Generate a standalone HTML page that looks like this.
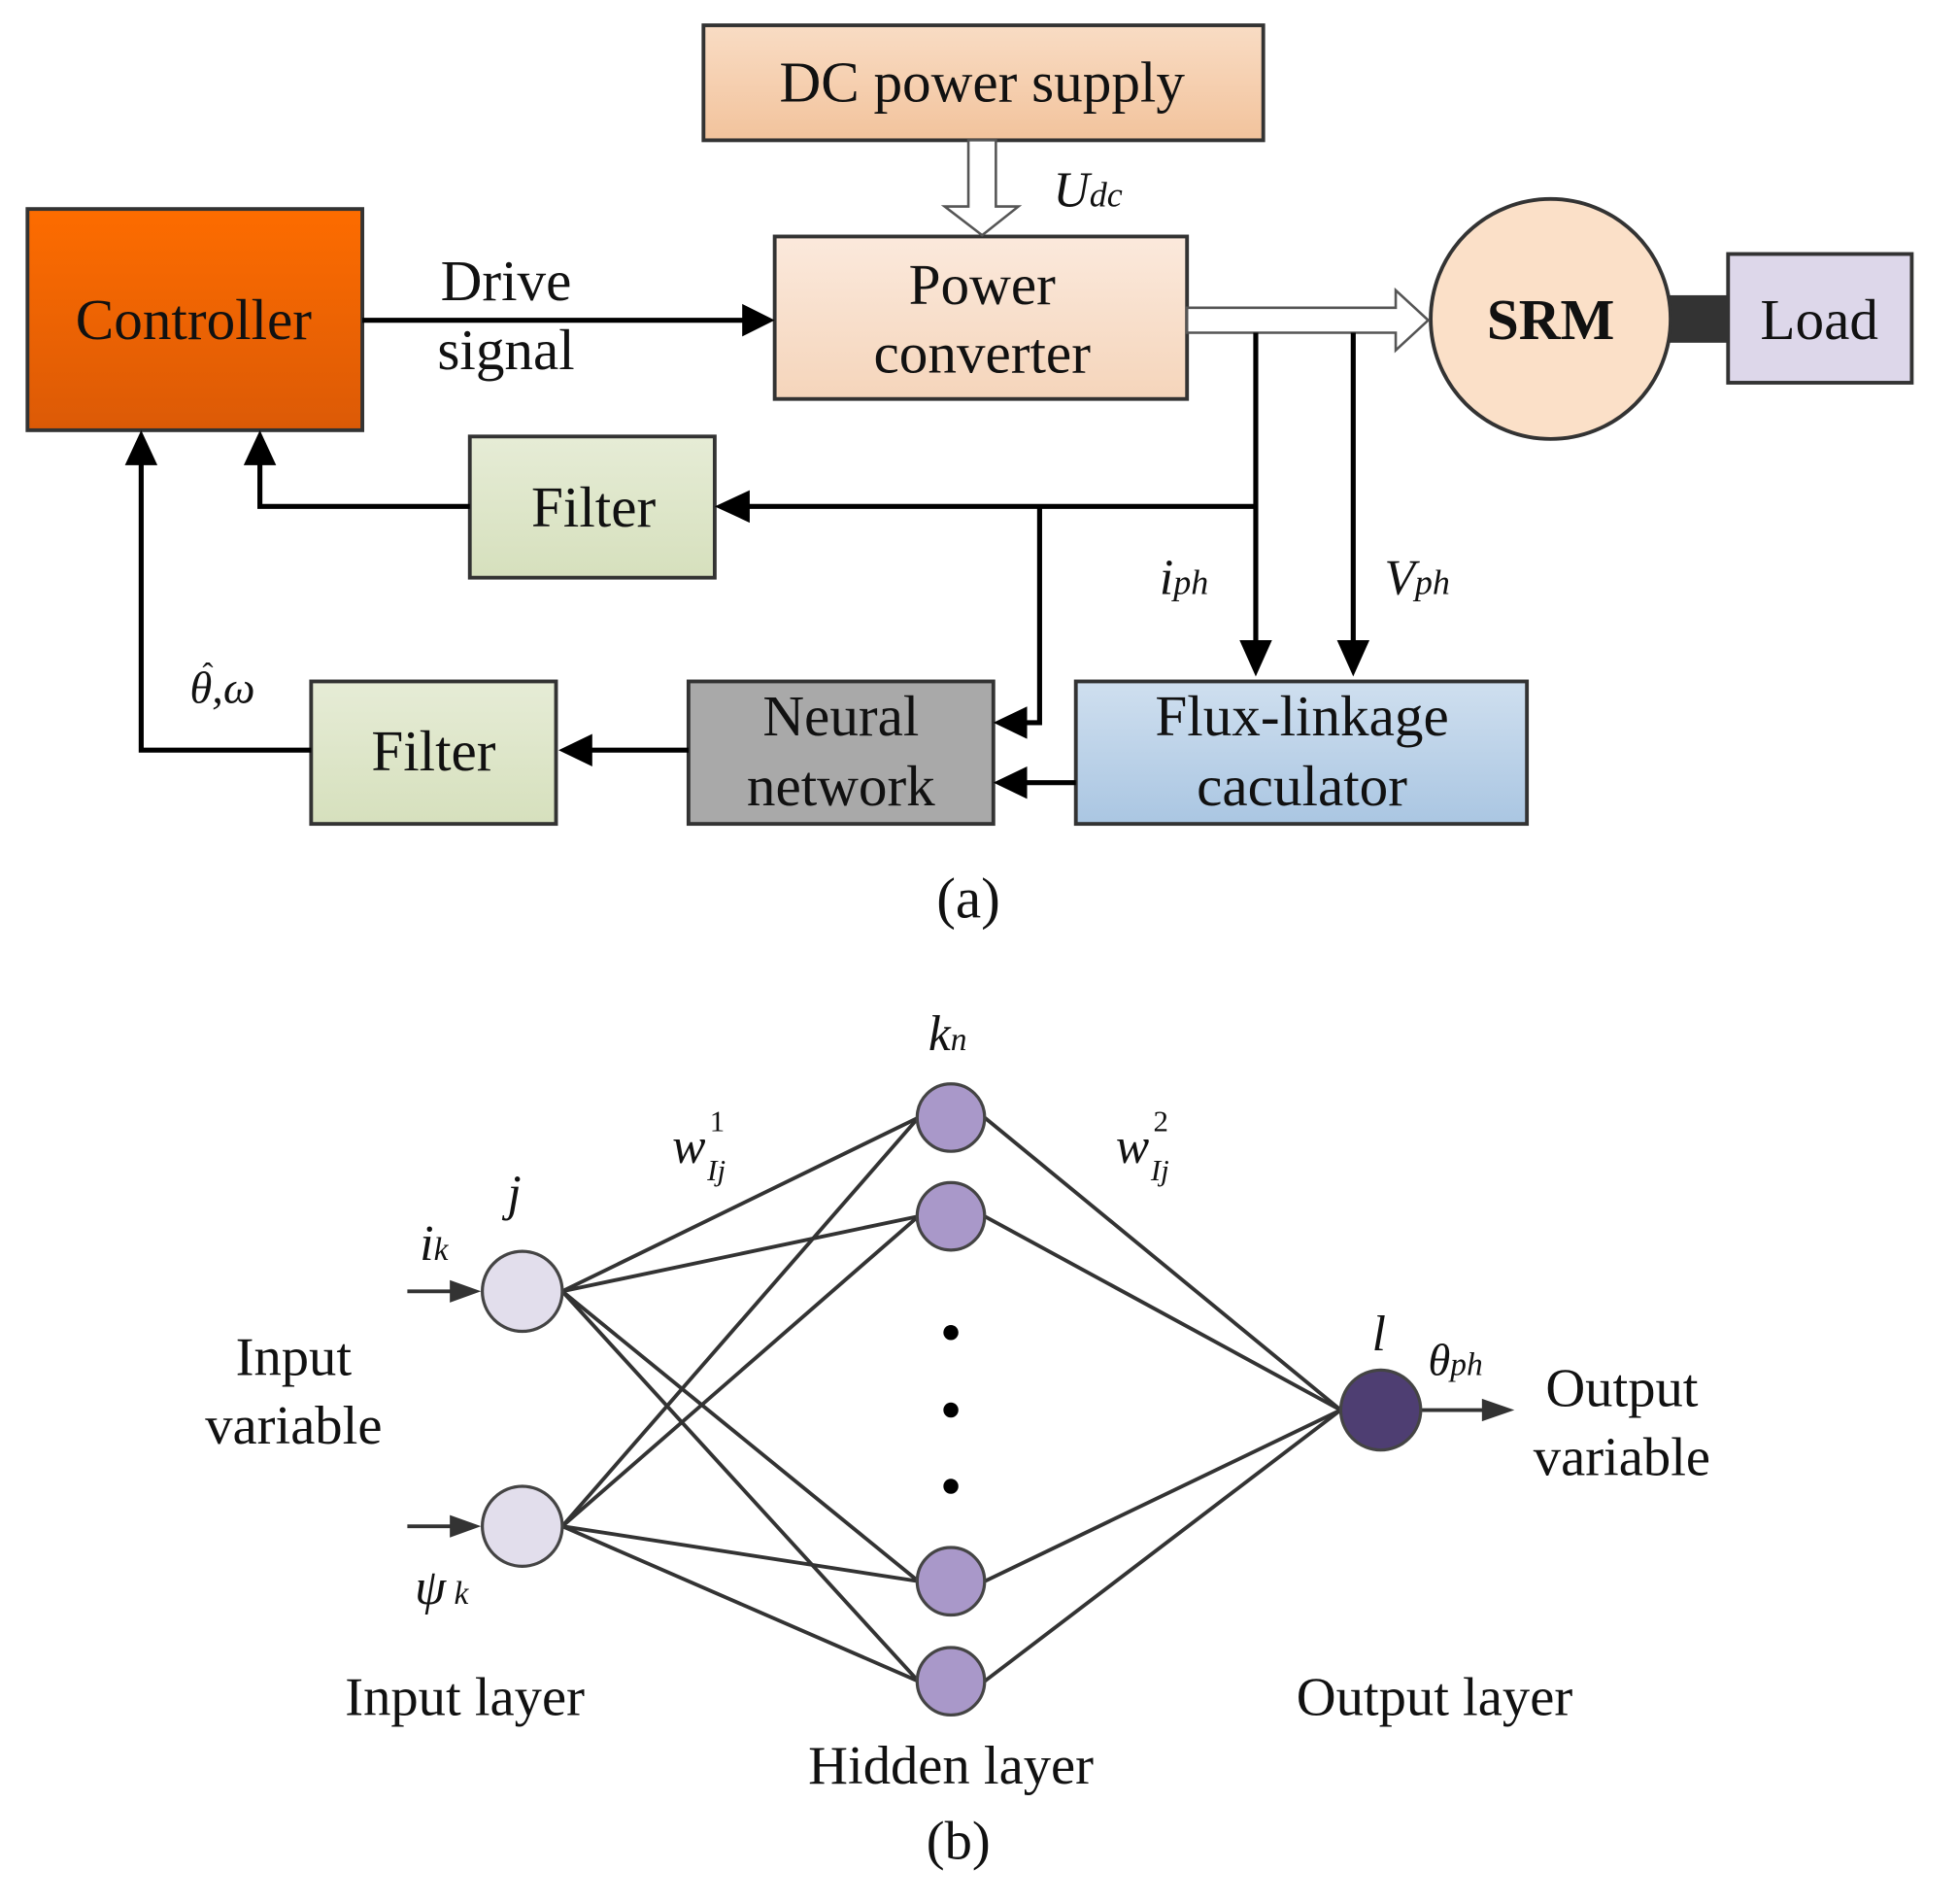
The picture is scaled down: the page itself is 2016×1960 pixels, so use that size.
<!DOCTYPE html>
<html><head><meta charset="utf-8"><style>html,body{margin:0;padding:0;background:#fff}svg{display:block}</style></head>
<body>
<svg width="2016" height="1960" viewBox="0 0 1567 1523" xmlns="http://www.w3.org/2000/svg" font-family="Liberation Serif, serif">
<defs>
<linearGradient id="gdc" x1="0" y1="0" x2="0" y2="1"><stop offset="0" stop-color="#f9dcc4"/><stop offset="1" stop-color="#f2c39c"/></linearGradient>
<linearGradient id="gct" x1="0" y1="0" x2="0" y2="1"><stop offset="0" stop-color="#fd6c00"/><stop offset="1" stop-color="#dc5a06"/></linearGradient>
<linearGradient id="gpc" x1="0" y1="0" x2="0" y2="1"><stop offset="0" stop-color="#fbe9dc"/><stop offset="1" stop-color="#f5d5bb"/></linearGradient>
<linearGradient id="gfl" x1="0" y1="0" x2="0" y2="1"><stop offset="0" stop-color="#e6ecd6"/><stop offset="1" stop-color="#d6e0bd"/></linearGradient>
<linearGradient id="gfx" x1="0" y1="0" x2="0" y2="1"><stop offset="0" stop-color="#cfdfef"/><stop offset="1" stop-color="#aac6e2"/></linearGradient>
</defs>
<g stroke="#333" stroke-width="3">
<rect x="563" y="20" width="448" height="92" fill="url(#gdc)"/>
<rect x="22" y="167" width="268" height="177" fill="url(#gct)"/>
<rect x="620" y="189" width="330" height="130" fill="url(#gpc)"/>
<rect x="1383" y="203" width="147" height="103" fill="#ddd7ea"/>
<rect x="376" y="349" width="196" height="113" fill="url(#gfl)"/>
<rect x="861" y="545" width="361" height="114" fill="url(#gfx)"/>
<rect x="551" y="545" width="244" height="114" fill="#a9a9a9"/>
<rect x="249" y="545" width="196" height="114" fill="url(#gfl)"/>
</g>
<rect x="1336" y="236" width="48" height="38" fill="#333"/>
<circle cx="1241" cy="255" r="96" fill="#fbe0c8" stroke="#333" stroke-width="3"/>
<path d="M775,112 H797 V165 H815 L786,188 L756,165 H775 Z" fill="#fff" stroke="#555" stroke-width="2"/>
<path d="M950,246 H1117 V232 L1143,256 L1117,280 V266 H950 Z" fill="#fff" stroke="#555" stroke-width="2"/>
<g fill="none" stroke="#000" stroke-width="4">
<line x1="290" y1="256" x2="596" y2="256"/>
<line x1="1005" y1="266" x2="1005" y2="520"/>
<line x1="1083" y1="266" x2="1083" y2="520"/>
<line x1="1005" y1="405" x2="596" y2="405"/>
<polyline points="376,405 208,405 208,368"/>
<polyline points="832,405 832,578 818,578"/>
<line x1="861" y1="626" x2="818" y2="626"/>
<line x1="551" y1="600" x2="470" y2="600"/>
<polyline points="249,600 113,600 113,368"/>
</g>
<g fill="#000">
<path d="M620,256 L594,243 L594,269 Z"/>
<path d="M1005,541 L992,512 L1018,512 Z"/>
<path d="M1083,541 L1070,512 L1096,512 Z"/>
<path d="M572,405 L600,392 L600,418 Z"/>
<path d="M208,344 L195,372 L221,372 Z"/>
<path d="M795,578 L822,565 L822,591 Z"/>
<path d="M795,626 L822,613 L822,639 Z"/>
<path d="M447,600 L474,587 L474,613 Z"/>
<path d="M113,344 L100,372 L126,372 Z"/>
</g>
<g font-size="46" text-anchor="middle" fill="#111">
<text x="786" y="81">DC power supply</text>
<text x="155" y="271">Controller</text>
<text x="786" y="243">Power</text>
<text x="786" y="298">converter</text>
<text x="405" y="240">Drive</text>
<text x="405" y="295">signal</text>
<text x="1241" y="271" font-weight="bold">SRM</text>
<text x="1456" y="271">Load</text>
<text x="475" y="421">Filter</text>
<text x="1042" y="588">Flux-linkage</text>
<text x="1042" y="644">caculator</text>
<text x="673" y="588">Neural</text>
<text x="673" y="644">network</text>
<text x="347" y="616">Filter</text>
<text x="775" y="734">(a)</text>
</g>
<g font-style="italic" fill="#111">
<text x="843" y="165" font-size="40">U<tspan font-size="28">dc</tspan></text>
<text x="928" y="475" font-size="40">i<tspan font-size="28">ph</tspan></text>
<text x="1108" y="475" font-size="40">V<tspan font-size="28">ph</tspan></text>
<text x="152" y="562" font-size="36">θ,ω</text>
<text x="162" y="548" font-size="26" font-style="normal">ˆ</text>
</g>
<g stroke="#333" stroke-width="3" fill="none">
<line x1="450" y1="1033" x2="735" y2="894"/>
<line x1="450" y1="1033" x2="735" y2="973"/>
<line x1="450" y1="1033" x2="735" y2="1265"/>
<line x1="450" y1="1033" x2="735" y2="1345"/>
<line x1="450" y1="1221" x2="735" y2="894"/>
<line x1="450" y1="1221" x2="735" y2="973"/>
<line x1="450" y1="1221" x2="735" y2="1265"/>
<line x1="450" y1="1221" x2="735" y2="1345"/>
<line x1="788" y1="894" x2="1073" y2="1128"/>
<line x1="788" y1="973" x2="1073" y2="1128"/>
<line x1="788" y1="1265" x2="1073" y2="1128"/>
<line x1="788" y1="1345" x2="1073" y2="1128"/>
<line x1="326" y1="1033" x2="362" y2="1033"/>
<line x1="326" y1="1221" x2="362" y2="1221"/>
<line x1="1137" y1="1128" x2="1188" y2="1128"/>
</g>
<g fill="#333">
<path d="M385,1033 L360,1024 L360,1042 Z"/>
<path d="M385,1221 L360,1212 L360,1230 Z"/>
<path d="M1212,1128 L1186,1119 L1186,1137 Z"/>
<circle cx="761" cy="1066" r="6" fill="#000"/>
<circle cx="761" cy="1128" r="6" fill="#000"/>
<circle cx="761" cy="1189" r="6" fill="#000"/>
</g>
<g stroke="#444" stroke-width="2.5">
<circle cx="418" cy="1033" r="32" fill="#e2deec"/>
<circle cx="418" cy="1221" r="32" fill="#e2deec"/>
<circle cx="761" cy="894" r="27" fill="#a998c9"/>
<circle cx="761" cy="973" r="27" fill="#a998c9"/>
<circle cx="761" cy="1265" r="27" fill="#a998c9"/>
<circle cx="761" cy="1345" r="27" fill="#a998c9"/>
<circle cx="1105" cy="1128" r="32" fill="#4e3e72"/>
</g>
<g font-size="44" text-anchor="middle" fill="#111">
<text x="235" y="1100">Input</text>
<text x="235" y="1155">variable</text>
<text x="1298" y="1125">Output</text>
<text x="1298" y="1180">variable</text>
<text x="372" y="1372">Input layer</text>
<text x="761" y="1427">Hidden layer</text>
<text x="1148" y="1372">Output layer</text>
<text x="767" y="1487">(b)</text>
</g>
<g font-style="italic" fill="#111" font-size="40">
<text x="406" y="968">j</text>
<text x="336" y="1008">i<tspan font-size="26">k</tspan></text>
<text x="332" y="1283">ψ<tspan font-size="26"> k</tspan></text>
<text x="538" y="930">w</text>
<text x="568" y="905" font-size="24" font-style="normal">1</text>
<text x="566" y="944" font-size="24">Ij</text>
<text x="893" y="930">w</text>
<text x="923" y="905" font-size="24" font-style="normal">2</text>
<text x="921" y="944" font-size="24">Ij</text>
<text x="743" y="840">k<tspan font-size="26">n</tspan></text>
<text x="1098" y="1080">l</text>
<text x="1143" y="1100" font-size="36">θ<tspan font-size="26">ph</tspan></text>
</g>
</svg>
</body></html>
